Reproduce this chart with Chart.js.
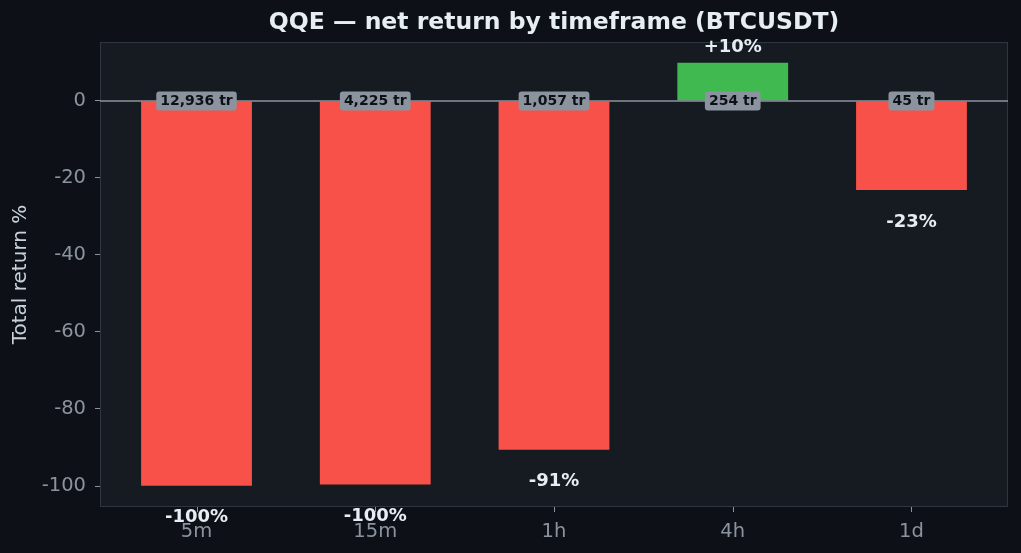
<!DOCTYPE html>
<html>
<head>
<meta charset="utf-8">
<script src="https://cdn.jsdelivr.net/npm/chart.js@4/dist/chart.umd.min.js"></script>
<style>
  html, body { margin: 0; padding: 0; background: #0d1117; }
  #wrap { width: 1021px; height: 553px; }
</style>
</head>
<body>
<div id="wrap"><canvas id="chart"></canvas></div>
<script>
const timeframes = ['5m', '15m', '1h', '4h', '1d'];
const netReturn = [-99.9, -99.6, -90.6, 9.9, -23.1];
const tradeCount = [12936, 4225, 1057, 254, 45];
const yTicks = [0, -20, -40, -60, -80, -100];

const fontFam = "'DejaVu Sans', sans-serif";
const titleText = 'QQE — net return by timeframe (BTCUSDT)';

let points = [];
let barColors = [];
for (let i = 0; i < timeframes.length; i++) {
    points.push({x: i, y: netReturn[i]});
    barColors.push(netReturn[i] >= 0 ? '#3fb950' : '#f85149');
}

// panel background + frame, zero line, title, labels
const decor = {
    id: 'decor',
    beforeDatasetsDraw(chart) {
        const {ctx, chartArea: a} = chart;
        ctx.save();
        ctx.fillStyle = '#161b22';
        ctx.fillRect(a.left, a.top, a.right - a.left, a.bottom - a.top);
        ctx.restore();
    },
    afterDraw(chart) {
        const {ctx, chartArea: a, scales} = chart;
        const y0 = scales.y.getPixelForValue(0);
        ctx.save();
        ctx.strokeStyle = '#30363d';
        ctx.lineWidth = 1;
        ctx.strokeRect(a.left + 0.5, a.top + 0.5, a.right - a.left - 1, a.bottom - a.top - 1);
        ctx.strokeStyle = '#8b949e';
        ctx.lineWidth = 1.5;
        ctx.beginPath();
        ctx.moveTo(a.left, y0);
        ctx.lineTo(a.right, y0);
        ctx.stroke();

        // x tick marks
        ctx.lineWidth = 1;
        for (let i = 0; i < timeframes.length; i++) {
            const x = Math.round(scales.x.getPixelForValue(i)) + 0.5;
            ctx.beginPath();
            ctx.moveTo(x, a.bottom);
            ctx.lineTo(x, a.bottom + 5);
            ctx.stroke();
        }

        ctx.textAlign = 'center';
        ctx.textBaseline = 'middle';
        ctx.font = 'bold 23.5px ' + fontFam;
        ctx.fillStyle = '#e6edf3';
        ctx.fillText(titleText, (a.left + a.right) / 2, 23);

        for (let i = 0; i < timeframes.length; i++) {
            const x = scales.x.getPixelForValue(i);
            const v = netReturn[i];
            const yv = scales.y.getPixelForValue(v);
            // return label
            ctx.font = 'bold 18px ' + fontFam;
            ctx.fillStyle = '#e6edf3';
            const txt = (v >= 0 ? '+' : '') + Math.round(v) + '%';
            ctx.fillText(txt, x, v >= 0 ? yv - 15 : yv + 32);
            // trade count badge
            ctx.font = 'bold 14px ' + fontFam;
            const t = tradeCount[i].toLocaleString('en-US') + ' tr';
            const w = ctx.measureText(t).width + 8;
            const h = 19;
            ctx.fillStyle = '#8b949e';
            ctx.beginPath();
            ctx.roundRect(x - w / 2, y0 - h / 2, w, h, 3);
            ctx.fill();
            ctx.fillStyle = '#0d1117';
            ctx.fillText(t, x, y0 + 0.5);
        }
        ctx.restore();
    }
};

const data = {
    datasets: [{
        data: points,
        backgroundColor: barColors,
        borderWidth: 0,
        barPercentage: 0.62,
        categoryPercentage: 1.0
    }]
};

const config = {
    type: 'bar',
    data: data,
    options: {
        responsive: true,
        maintainAspectRatio: false,
        animation: false,
        layout: {padding: {top: 42, right: 13, bottom: 0, left: 0}},
        plugins: {
            legend: {display: false},
            tooltip: {enabled: false},
            title: {display: false}
        },
        scales: {
            x: {
                type: 'linear',
                min: -0.54,
                max: 4.54,
                offset: false,
                afterBuildTicks(scale) {
                    scale.ticks = timeframes.map((t, i) => ({value: i}));
                },
                grid: {display: false},
                border: {display: false},
                ticks: {
                    color: '#8b949e',
                    font: {family: fontFam, size: 19.5},
                    padding: 5,
                    maxRotation: 0,
                    callback: (value) => timeframes[value]
                },
                afterFit(scale) { scale.height = 46; }
            },
            y: {
                min: -105.45,
                max: 15.3,
                z: 1,
                afterBuildTicks(scale) {
                    scale.ticks = yTicks.map(v => ({value: v}));
                },
                grid: {color: 'rgba(48,54,61,0.35)', lineWidth: 1, tickLength: 5, tickWidth: 1, tickColor: '#8b949e'},
                border: {display: false},
                ticks: {color: '#8b949e', font: {family: fontFam, size: 19.5}, padding: 9},
                title: {
                    display: true,
                    text: 'Total return %',
                    color: '#c9d1d9',
                    font: {family: fontFam, size: 20},
                    padding: {top: 9, bottom: 0}
                },
                afterFit(scale) { scale.width = 100; }
            }
        }
    },
    plugins: [decor]
};

let myChart = new Chart(document.getElementById('chart'), config);
</script>
</body>
</html>
